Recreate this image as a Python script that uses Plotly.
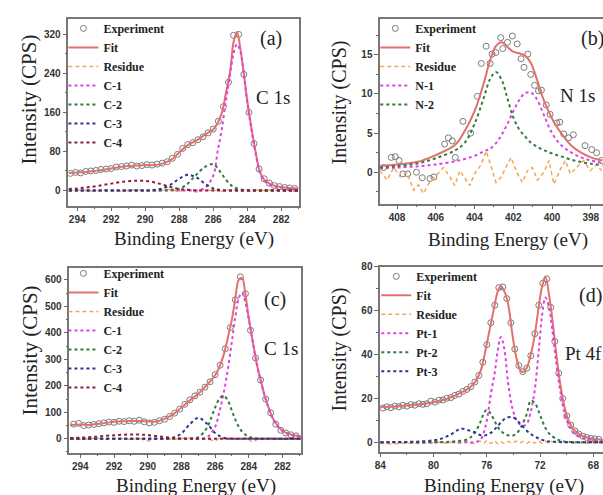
import plotly.graph_objects as go

W, H = 603, 495

# ---------------- Panel (a): C 1s ----------------
A_X = [294.5, 294.0, 293.5, 293.0, 292.5, 292.0, 291.5, 291.0, 290.5, 290.0, 289.5, 289.0,
       288.5, 288.0, 287.5, 287.0, 286.5, 286.0, 285.75, 285.5, 285.25, 285.0, 284.8, 284.6,
       284.4, 284.2, 284.0, 283.75, 283.5, 283.25, 283.0, 282.5, 282.0, 281.5, 281.0]
A_FIT = [36, 37, 38, 40, 42, 45, 48, 50, 51, 52, 52, 55, 62, 78, 93, 102, 114, 125, 138, 158,
         200, 245, 305, 325, 290, 240, 185, 128, 78, 38, 22, 11, 7, 5, 4]
A_RES = [0, 1, 0, -1, 1, 0, -1, 0, 1, 0, -1, 1, 2, -2, 3, -3, 2, -1, 1, -2, 2, -1, 1, 0,
         -2, 1, 0, -1, 1, 0, 0, 1, 0, 0, 0]
A_C1 = [0, 0, 0, 0, 0, 0, 0, 0, 0, 0, 0, 0, 0, 0, 0, 0, 5, 30, 78, 125, 185, 240, 282, 300,
        285, 240, 180, 125, 75, 36, 20, 9, 5, 3, 2]
A_C2 = [0, 0, 0, 0, 0, 0, 0, 0, 0, 0, 0, 0, 1, 3, 14, 32, 48, 54, 46, 34, 22, 12, 7, 4,
        2, 1, 0.5, 0, 0, 0, 0, 0, 0, 0, 0]
A_C3 = [0, 0, 0, 0, 0, 0, 0, 0, 0, 0, 1, 4, 12, 24, 32, 27, 14, 4, 2, 1, 0, 0, 0, 0,
        0, 0, 0, 0, 0, 0, 0, 0, 0, 0, 0]
A_C4 = [3, 4, 6, 8, 11, 14, 17, 19, 20, 19.5, 17, 12, 7, 3, 1, 0, 0, 0, 0, 0, 0, 0, 0, 0,
        0, 0, 0, 0, 0, 0, 0, 0, 0, 0, 0]
A_EXP_X = [294.4, 294.1, 293.8, 293.5, 293.2, 292.9, 292.6, 292.3, 292.0, 291.7, 291.4, 291.1,
           290.8, 290.5, 290.2, 289.9, 289.6, 289.3, 289.0, 288.7, 288.4, 288.1, 287.8, 287.5,
           287.2, 286.9, 286.6, 286.3, 286.0, 285.7, 285.4, 285.1, 284.8, 284.5, 284.2, 283.9,
           283.6, 283.3, 283.0, 282.7, 282.4, 282.1, 281.8, 281.5, 281.2]
A_EXP_Y = [35, 37, 36, 39, 40, 41, 43, 44, 45, 48, 49, 50, 52, 50, 51, 53, 52, 54, 56, 59,
           66, 74, 86, 94, 98, 104, 110, 118, 126, 142, 172, 222, 318, 320, 238, 160, 96, 44,
           24, 15, 10, 8, 6, 5, 4]

# ---------------- Panel (b): N 1s ----------------
B_X = [408.9, 408.0, 407.0, 406.0, 405.0, 404.5, 404.0, 403.5, 403.2, 402.9, 402.6, 402.3,
       402.0, 401.7, 401.4, 401.1, 400.8, 400.5, 400.2, 399.9, 399.5, 399.0, 398.5, 398.0, 397.4]
B_FIT = [0.8, 1.0, 1.3, 2.2, 3.5, 5.3, 7.8, 11.6, 14.3, 16.1, 16.6, 16.0, 15.4, 15.2, 14.9,
         14.0, 12.0, 9.7, 7.9, 6.4, 4.9, 3.4, 2.5, 1.9, 1.5]
B_N1 = [0.5, 0.6, 0.75, 1.0, 1.4, 1.7, 2.1, 2.7, 3.0, 3.7, 4.8, 6.2, 7.8, 9.2, 10.1, 10.2,
        9.4, 7.8, 6.0, 4.6, 3.4, 2.5, 1.9, 1.5, 1.2]
B_N2 = [0.6, 0.8, 1.1, 1.8, 2.8, 3.8, 6.2, 9.7, 11.9, 12.8, 11.8, 9.4, 7.0, 5.5, 4.6, 3.8,
        3.3, 2.9, 2.6, 2.3, 2.0, 1.6, 1.3, 1.1, 0.9]
B_RES_X = [408.89, 408.51, 408.17, 407.83, 407.49, 407.15, 406.89, 406.64, 406.38, 406.13,
           405.87, 405.61, 405.27, 405.02, 404.76, 404.51, 404.25, 404.0, 403.66, 403.4,
           403.14, 402.89, 402.63, 402.38, 402.12, 401.78, 401.53, 401.27, 401.02, 400.76,
           400.42, 400.16, 399.91, 399.57, 399.31, 399.06, 398.72, 398.37, 398.03, 397.69, 397.44]
B_RES = [0.2, -1.0, 0.6, -0.6, 0.0, -2.3, -1.6, -2.7, -1.5, -0.8, 0.0, 0.6, -0.6, -1.7, 0.2,
         -0.8, -1.7, -0.2, 1.0, 2.7, 0.6, -1.3, -0.6, 0.6, 1.9, -0.2, -1.3, 0.2, 0.6, -1.0,
         0.0, 1.5, -1.5, 0.4, 1.5, -0.2, 0.6, 1.5, 0.2, 1.0, 0.2]
B_EXP_X = [408.7, 408.3, 408.1, 407.9, 407.7, 407.45, 407.0, 406.7, 406.3, 406.1, 405.55,
           405.35, 405.15, 405.0, 404.6, 404.2, 403.85, 403.65, 403.4, 403.2, 403.1, 402.9,
           402.65, 402.55, 402.3, 402.05, 401.8, 401.6, 401.45, 401.25, 401.1, 400.9, 400.7,
           400.55, 400.3, 400.1, 399.75, 399.6, 399.4, 399.15, 398.9, 398.3, 397.95, 397.7, 397.45]
B_EXP_Y = [0.6, 1.9, 2.0, 1.5, -0.2, -0.2, 0.0, -0.7, -0.8, -0.6, 3.6, 4.4, 4.0, 1.9, 6.5,
           5.0, 9.7, 13.9, 16.1, 13.9, 15.1, 15.3, 17.2, 15.8, 16.6, 17.4, 16.4, 14.5, 13.4,
           15.1, 12.5, 11.1, 10.4, 10.5, 8.6, 7.4, 6.3, 6.4, 4.9, 4.4, 4.8, 3.4, 2.9, 2.5, 1.5]

# ---------------- Panel (c): C 1s ----------------
C_X = [294.6, 294.0, 293.5, 293.0, 292.5, 292.0, 291.5, 291.0, 290.5, 290.0, 289.5, 289.0,
       288.5, 288.0, 287.5, 287.0, 286.5, 286.0, 285.75, 285.5, 285.25, 285.0, 284.8, 284.6,
       284.4, 284.2, 284.0, 283.75, 283.5, 283.25, 283.0, 282.5, 282.0, 281.5, 280.9]
C_FIT = [52, 54, 52, 56, 60, 64, 66, 67, 67, 66, 65, 75, 92, 118, 145, 170, 202, 240, 270, 315,
         380, 452, 530, 600, 608, 545, 455, 362, 275, 210, 150, 68, 30, 16, 9]
C_RES = [1, -2, 0, 2, -1, 0, 1, -2, 1, -8, 2, 0, -1, 1, 3, -2, 0, -8, 2, -1, 1, 3, -2, 2,
         -1, 4, -3, -12, -2, 1, 0, 2, -1, 0, 1]
C_C1 = [0, 0, 0, 0, 0, 0, 0, 0, 0, 0, 0, 0, 0, 0, 0, 0, 4, 45, 100, 170, 260, 370, 460, 530,
        552, 515, 452, 360, 275, 208, 150, 68, 29, 15, 8]
C_C2 = [0, 0, 0, 0, 0, 0, 0, 0, 0, 0, 0, 0, 0, 0, 1, 6, 40, 118, 150, 163, 145, 105, 72, 45,
        27, 15, 8, 3, 1, 0, 0, 0, 0, 0, 0]
C_C3 = [0, 0, 0, 0, 0, 0, 0, 0, 0, 0, 0, 0.5, 4, 20, 55, 79, 58, 22, 11, 4, 1, 0, 0, 0,
        0, 0, 0, 0, 0, 0, 0, 0, 0, 0, 0]
C_C4 = [3, 4, 6, 8, 11, 13, 15, 16, 16, 14, 10, 6, 3, 1, 0, 0, 0, 0, 0, 0, 0, 0, 0, 0,
        0, 0, 0, 0, 0, 0, 0, 0, 0, 0, 0]
C_EXP_X = [294.4, 294.1, 293.8, 293.5, 293.2, 292.9, 292.6, 292.3, 292.0, 291.7, 291.4, 291.1,
           290.8, 290.5, 290.2, 289.9, 289.6, 289.3, 289.0, 288.7, 288.4, 288.1, 287.8, 287.5,
           287.2, 286.9, 286.6, 286.3, 286.0, 285.7, 285.4, 285.1, 284.8, 284.5, 284.2, 283.9,
           283.6, 283.3, 283.0, 282.7, 282.4, 282.1, 281.8, 281.5, 281.2]
C_EXP_Y = [55, 58, 50, 52, 54, 57, 60, 63, 62, 66, 65, 68, 66, 70, 64, 60, 62, 68, 74, 84,
           97, 112, 130, 147, 162, 176, 195, 215, 242, 278, 340, 420, 525, 612, 548, 410, 305,
           222, 150, 98, 55, 32, 22, 15, 11]

# ---------------- Panel (d): Pt 4f ----------------
D_X = [84.0, 83.0, 82.0, 81.0, 80.0, 79.5, 79.0, 78.5, 78.0, 77.5, 77.0, 76.5, 76.2, 76.0,
       75.7, 75.4, 75.2, 74.95, 74.7, 74.4, 74.1, 73.8, 73.5, 73.3, 73.0, 72.7, 72.4, 72.1,
       71.85, 71.6, 71.35, 71.1, 70.8, 70.5, 70.2, 69.9, 69.5, 69.0, 68.5, 68.0, 67.3]
D_FIT = [16, 16.3, 16.8, 17.4, 18.3, 19.0, 19.8, 21, 22.5, 24, 26.5, 32, 39, 45, 54, 63, 68.5,
         71.2, 69, 63, 50, 39, 33, 32, 34, 40, 49, 62, 71, 75.3, 68, 57, 41, 27, 17, 10.5, 6,
         3.5, 2.2, 1.6, 1.2]
D_RES = [-0.5, -0.6, -0.4, -0.5, -0.2, 0, -0.3, 0.2, -0.4, 0.3, -0.5, 0.5, -0.3, 0.8, -0.4,
         0.6, -0.6, 0.3, -0.5, 0.4, -0.3, 0.5, -0.2, 0.4, -0.4, 0.5, -0.3, 0.6, -0.4, 0.5,
         -0.3, 0.4, -0.2, 0.3, -0.2, 0.1, -0.3, -0.2, -0.3, -0.2, -0.3]
D_P1 = [0, 0, 0, 0, 0, 0, 0, 0, 0, 0, 0, 1, 5, 10, 22, 32, 41, 48, 43, 27, 16, 10.5, 8, 7.5,
        8.5, 14, 24, 42, 58, 66, 62, 52, 37, 24, 14, 8.5, 4.5, 2.5, 1.5, 1.0, 0.6]
D_P2 = [0, 0, 0, 0, 0, 0.1, 0.2, 0.4, 0.7, 1.3, 3.5, 9, 13.5, 14.8, 13, 9.5, 7.2, 5.2, 4, 3.2,
        3.0, 3.8, 6.2, 8.5, 13, 19, 18, 14, 10, 6.5, 4.2, 2.8, 1.6, 0.8, 0.4, 0.2, 0.1, 0, 0,
        0, 0]
D_P3 = [0, 0.1, 0.2, 0.4, 0.9, 1.5, 2.7, 4.3, 6.2, 5.7, 4.8, 3.3, 3.1, 3.4, 4.3, 6, 7.3, 9,
        10.5, 11.4, 11.5, 10.5, 8.5, 7.2, 5.3, 3.8, 2.6, 1.7, 1.1, 0.7, 0.4, 0.3, 0.2, 0.1, 0,
        0, 0, 0, 0, 0, 0]
D_EXP_X = [83.8, 83.5, 83.2, 82.9, 82.6, 82.3, 82.0, 81.7, 81.4, 81.1, 80.8, 80.5, 80.2, 79.9,
           79.6, 79.3, 79.0, 78.7, 78.4, 78.1, 77.8, 77.5, 77.2, 76.9, 76.6, 76.3, 76.0, 75.7,
           75.4, 75.1, 74.8, 74.5, 74.2, 73.9, 73.6, 73.3, 73.0, 72.7, 72.4, 72.1, 71.8, 71.5,
           71.2, 70.9, 70.6, 70.3, 70.0, 69.7, 69.4, 69.1, 68.8, 68.5, 68.2, 67.9, 67.6]
D_EXP_Y = [15.6, 16.2, 15.8, 16.5, 16.2, 16.9, 16.5, 17.2, 16.9, 17.6, 17.3, 17.6, 18.8, 18.3,
           19.2, 19.3, 20.1, 20.4, 21.4, 22.0, 23.2, 24.1, 25.4, 27.5, 30.5, 36.5, 44.5, 54.5,
           62.5, 70.5, 70.8, 65.5, 54.5, 42.5, 35.0, 32.2, 33.8, 39.5, 49.5, 62.5, 72.5, 74.5,
           61.5, 46.0, 31.5, 20.0, 12.0, 7.8, 5.2, 3.8, 2.8, 2.2, 1.8, 1.6, 1.4]

# ---------------- styles ----------------
SERIF = "Liberation Serif"
SANS = "Liberation Sans"
COL_EXP = "#7a7a7a"
COL_FIT = "#e2706c"
COL_RES = "#f2a65a"
COL_MAG = "#e040e0"
COL_GRN = "#2f7d3a"
COL_NAV = "#2c3590"
COL_MAR = "#8a1f3c"

fig = go.Figure()


def add_panel(ax, lg, ex_x, ex_y, x, fit, res_x, res, comps, res_shape="spline"):
    xa, ya = ("x", "y") if ax == 1 else (f"x{ax}", f"y{ax}")
    fig.add_trace(go.Scatter(x=ex_x, y=ex_y, mode="markers", name="Experiment",
                             marker=dict(symbol="circle-open", size=6, color=COL_EXP,
                                         line=dict(width=1, color=COL_EXP)),
                             xaxis=xa, yaxis=ya, legend=lg))
    fig.add_trace(go.Scatter(x=x, y=fit, mode="lines", name="Fit", line_shape="spline",
                             line=dict(color=COL_FIT, width=2), xaxis=xa, yaxis=ya, legend=lg))
    fig.add_trace(go.Scatter(x=res_x, y=res, mode="lines", name="Residue", line_shape=res_shape,
                             line=dict(color=COL_RES, width=1.5, dash="4px,3px"),
                             xaxis=xa, yaxis=ya, legend=lg))
    for name, vals, col in comps:
        fig.add_trace(go.Scatter(x=x, y=vals, mode="lines", name=name, line_shape="spline",
                                 line=dict(color=col, width=2, dash="dot"),
                                 xaxis=xa, yaxis=ya, legend=lg))


add_panel(1, "legend", A_EXP_X, A_EXP_Y, A_X, A_FIT, A_X, A_RES,
          [("C-1", A_C1, COL_MAG), ("C-2", A_C2, COL_GRN), ("C-3", A_C3, COL_NAV),
           ("C-4", A_C4, COL_MAR)])
add_panel(2, "legend2", B_EXP_X, B_EXP_Y, B_X, B_FIT, B_RES_X, B_RES,
          [("N-1", B_N1, COL_MAG), ("N-2", B_N2, COL_GRN)], res_shape="linear")
add_panel(3, "legend3", C_EXP_X, C_EXP_Y, C_X, C_FIT, C_X, C_RES,
          [("C-1", C_C1, COL_MAG), ("C-2", C_C2, COL_GRN), ("C-3", C_C3, COL_NAV),
           ("C-4", C_C4, COL_MAR)])
add_panel(4, "legend4", D_EXP_X, D_EXP_Y, D_X, D_FIT, D_X, D_RES,
          [("Pt-1", D_P1, COL_MAG), ("Pt-2", D_P2, COL_GRN), ("Pt-3", D_P3, COL_NAV)])


def px_dom_x(a, b):
    return [a / W, min(b / W, 1.0)]


def px_dom_y(top, bot):
    return [1 - bot / H, 1 - top / H]


tickfont = dict(family=SANS, size=10, color="#333333", weight="bold")


def axis(dom, rng, dtick, minor, anchor, mirror):
    return dict(domain=dom, range=rng, dtick=dtick, tick0=0, showgrid=False, zeroline=False,
                showline=True, linecolor="#777777", linewidth=1.5, mirror=mirror,
                ticks="outside", ticklen=4, tickwidth=1, tickcolor="#666666",
                minor=dict(dtick=minor, ticks="outside", ticklen=2, tickcolor="#666666"),
                tickfont=tickfont, anchor=anchor)


legfont = dict(family=SERIF, size=12, color="#222222", weight="bold")


def legend(xpx, ypx):
    return dict(x=xpx / W, y=1 - ypx / H, xanchor="left", yanchor="top",
                bgcolor="rgba(0,0,0,0)", borderwidth=0, font=legfont, itemwidth=30,
                tracegroupgap=0)


fig.update_layout(
    width=W, height=H, margin=dict(l=0, r=0, t=0, b=0),
    plot_bgcolor="white", paper_bgcolor="white", showlegend=True,
    xaxis=axis(px_dom_x(63, 296), [294.52, 280.95], 2, 1, "y", True),
    yaxis=axis(px_dom_y(13, 202), [-31, 352], 80, 40, "x", True),
    xaxis2=axis(px_dom_x(378, 603), [408.87, 397.37], 2, 1, "y2", True),
    yaxis2=axis(px_dom_y(13, 200), [-4.0, 19.6], 5, 2.5, "x2", False),
    xaxis3=axis(px_dom_x(64, 298), [294.65, 280.9], 2, 1, "y3", True),
    yaxis3=axis(px_dom_y(265, 452), [-52, 646], 100, 50, "x3", True),
    xaxis4=axis(px_dom_x(378, 603), [84.0, 67.28], 4, 2, "y4", True),
    yaxis4=axis(px_dom_y(264, 451), [-4.2, 80], 20, 10, "x4", False),
    legend=legend(58, 8),
    legend2=legend(373, 8),
    legend3=legend(58, 256),
    legend4=legend(374, 259),
)

ann = []


def text(s, xpx, ypx, size, angle=0):
    ann.append(dict(text=s, x=xpx / W, y=1 - ypx / H, xref="paper", yref="paper",
                    showarrow=False, xanchor="center", yanchor="middle", textangle=angle,
                    font=dict(family=SERIF, size=size, color="#222222")))


text("Intensity (CPS)", 23, 95, 21, -90)
text("Intensity (CPS)", 337, 98, 20, -90)
text("Intensity (CPS)", 24, 349, 21, -90)
text("Intensity (CPS)", 337, 348, 20, -90)
text("Binding Energy (eV)", 190, 236, 19)
text("Binding Energy (eV)", 507, 237, 19)
text("Binding Energy (eV)", 192, 486, 19)
text("Binding Energy (eV)", 503, 486, 19)
text("(a)", 268, 33, 20)
text("C 1s", 270, 93, 19)
text("(b)", 592, 33, 20)
text("N 1s", 577, 91, 19)
text("(c)", 272, 297, 20)
text("C 1s", 278, 347, 19)
text("(d)", 590, 293, 20)
text("Pt 4f", 583, 352, 19)
fig.update_layout(annotations=ann)

fig.write_html("out.html", config={"displayModeBar": False},
               post_script="document.body.style.margin='0';document.body.style.overflow='hidden';")
